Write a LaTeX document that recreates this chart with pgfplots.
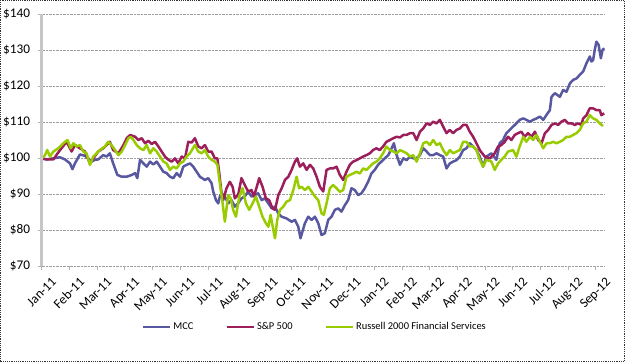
\documentclass[border=0pt]{standalone}
\usepackage{pgfplots}
\pgfplotsset{compat=1.18}
\usepackage{fontspec}
\setmainfont{Carlito}
\definecolor{mcc}{RGB}{88,88,160}
\definecolor{spx}{RGB}{156,30,90}
\definecolor{rus}{RGB}{153,204,0}
\begin{document}
\begin{tikzpicture}[x=1bp,y=1bp]
\useasboundingbox (0,0) rectangle (625,362);
\begin{axis}[
  at={(41.7bp,96bp)}, anchor=south west,
  scale only axis, width=563.3bp, height=252bp,
  xmin=0, xmax=20.33, ymin=70, ymax=140,
  xtick={0,...,20},
  xticklabels={Jan-11,Feb-11,Mar-11,Apr-11,May-11,Jun-11,Jul-11,Aug-11,Sep-11,Oct-11,Nov-11,Dec-11,Jan-12,Feb-12,Mar-12,Apr-12,May-12,Jun-12,Jul-12,Aug-12,Sep-12},
  ytick={70,80,...,140},
  yticklabels={\$70,\$80,\$90,\$100,\$110,\$120,\$130,\$140},
  ymajorgrids, major grid style={densely dotted, gray!75, line width=0.8bp},
  axis line style={draw=none},
  tick pos=left, tick align=outside, major tick length=4bp,
  tick style={gray!60, line width=0.8bp},
  xticklabel style={rotate=45, anchor=north east, font=\fontsize{13.3}{15}\selectfont, inner sep=0bp, yshift=-11bp, xshift=2bp},
  yticklabel style={font=\fontsize{13.3}{15}\selectfont, inner sep=0bp, xshift=-7.5bp},
  legend style={at={(0.485,-0.242)}, anchor=center, draw=none, fill=none,
    font=\fontsize{10.5}{12}\selectfont, legend columns=3,
    /tikz/every even column/.append style={column sep=30bp}},
  legend image code/.code={\draw[#1] (0bp,0bp) -- (27bp,0bp);},
  every axis plot/.append style={line width=2.5bp, line join=round, mark=none},
]
\addplot[color=mcc] coordinates {
(0.00,99.9)(0.18,99.6)(0.42,99.9)(0.66,100.2)(0.84,99.6)(1.02,98.5)(1.11,96.9)(1.20,98.5)(1.38,101.0)(1.56,100.6)(1.68,99.9)(1.80,99.0)(1.92,99.5)(2.04,99.6)(2.22,100.8)(2.34,100.4)(2.46,101.3)(2.58,98.5)(2.73,95.3)(2.89,94.8)(3.07,94.8)(3.25,95.3)(3.37,95.8)(3.45,94.4)(3.55,99.5)(3.67,98.5)(3.79,97.6)(3.91,99.0)(4.03,98.2)(4.15,99.0)(4.27,97.6)(4.39,96.2)(4.51,95.8)(4.63,94.8)(4.75,94.4)(4.87,95.8)(4.99,94.8)(5.11,97.6)(5.23,98.1)(5.35,98.5)
(5.47,97.6)(5.59,96.2)(5.71,94.8)(5.89,93.9)(6.01,94.4)(6.13,93.0)(6.19,90.7)(6.29,88.3)(6.37,87.4)(6.43,89.3)(6.49,90.2)(6.61,89.3)(6.73,87.4)(6.85,88.3)(6.97,86.5)(7.09,87.4)(7.21,88.8)(7.33,89.3)(7.45,90.7)(7.57,89.3)(7.69,89.7)(7.81,90.2)(7.94,88.3)(8.05,88.8)(8.18,87.4)(8.30,86.0)(8.42,86.5)(8.54,84.6)(8.66,83.7)(8.84,83.2)(9.02,82.3)(9.14,82.8)(9.26,80.9)(9.34,77.7)(9.50,81.9)(9.62,83.7)(9.74,82.8)(9.86,83.7)(9.98,81.9)(10.10,78.6)(10.22,79.1)(10.34,82.8)
(10.46,83.7)(10.58,85.6)(10.70,86.0)(10.82,85.1)(10.94,86.9)(11.06,88.3)(11.18,91.6)(11.30,91.1)(11.42,89.7)(11.54,90.2)(11.66,91.6)(11.78,93.4)(11.90,95.7)(12.02,96.7)(12.14,98.1)(12.26,99.0)(12.38,99.9)(12.51,100.8)(12.63,102.7)(12.71,104.1)(12.81,100.8)(12.93,98.1)(13.05,99.9)(13.17,99.4)(13.29,100.4)(13.41,99.9)(13.53,99.9)(13.65,100.8)(13.77,102.7)(13.89,101.8)(14.01,100.8)(14.13,100.8)(14.25,101.3)(14.37,100.8)(14.49,100.4)(14.61,97.1)(14.73,98.5)(14.85,99.0)(14.97,99.4)(15.09,100.4)(15.21,102.2)
(15.33,102.7)(15.45,104.1)(15.57,103.2)(15.69,102.2)(15.81,100.4)(15.93,97.6)(16.05,100.4)(16.23,101.3)(16.41,99.5)(16.53,104.1)(16.65,105.0)(16.77,106.9)(16.89,107.8)(17.01,108.7)(17.13,109.6)(17.25,110.6)(17.38,111.0)(17.49,110.6)(17.62,110.1)(17.74,110.6)(17.86,111.0)(17.98,111.5)(18.10,110.6)(18.22,112.0)(18.34,113.3)(18.40,117.0)(18.52,118.0)(18.70,117.0)(18.82,118.9)(18.94,118.4)(19.06,120.7)(19.18,121.7)(19.30,122.1)(19.42,123.1)(19.54,124.0)(19.66,126.3)(19.78,128.2)(19.84,126.8)(19.90,127.2)(19.96,130.0)(20.02,132.3)(20.10,131.4)(20.18,127.7)(20.24,130.0)(20.30,130.5)
};
\addlegendentry{MCC}
\addplot[color=spx] coordinates {
(0.00,99.9)(0.18,99.6)(0.42,99.6)(0.66,102.2)(0.90,104.5)(1.08,101.8)(1.20,103.6)(1.38,102.7)(1.56,101.8)(1.74,98.5)(1.86,99.9)(2.04,101.8)(2.22,102.7)(2.34,103.6)(2.46,104.5)(2.58,102.2)(2.77,101.3)(2.95,103.6)(3.07,105.5)(3.19,106.4)(3.37,105.9)(3.49,105.0)(3.61,105.5)(3.73,104.1)(3.85,104.8)(3.97,103.9)(4.09,104.5)(4.21,103.2)(4.33,101.8)(4.45,100.4)(4.57,99.5)(4.69,99.0)(4.81,99.9)(4.93,98.5)(5.05,100.4)(5.17,99.9)(5.29,104.5)(5.41,104.3)
(5.53,105.5)(5.65,103.2)(5.77,102.7)(5.89,103.6)(6.01,101.8)(6.13,101.8)(6.25,99.9)(6.34,99.9)(6.41,95.7)(6.49,90.2)(6.55,88.3)(6.67,91.6)(6.79,93.4)(6.89,92.0)(6.97,88.8)(7.09,89.7)(7.21,94.4)(7.33,92.5)(7.45,90.7)(7.57,91.1)(7.66,89.3)(7.78,92.5)(7.85,94.4)(7.97,92.0)(8.09,88.8)(8.21,88.3)(8.33,86.0)(8.42,85.6)(8.54,89.7)(8.66,91.6)(8.78,93.9)(8.90,94.8)(9.02,96.7)(9.14,99.0)(9.22,99.9)(9.32,97.6)(9.44,98.5)(9.56,96.7)(9.68,98.1)(9.80,97.1)(9.92,94.8)(10.04,92.0)(10.16,90.7)(10.28,96.7)(10.40,97.1)
(10.52,97.1)(10.64,97.6)(10.76,95.3)(10.88,93.9)(11.00,96.2)(11.12,98.1)(11.24,99.0)(11.36,99.4)(11.48,99.9)(11.60,100.4)(11.72,100.8)(11.84,101.3)(11.96,102.2)(12.08,102.7)(12.20,102.2)(12.32,103.2)(12.44,104.5)(12.57,105.0)(12.69,105.5)(12.81,105.9)(12.93,105.7)(13.05,106.4)(13.17,106.4)(13.29,106.9)(13.41,106.9)(13.53,105.0)(13.65,107.3)(13.77,108.2)(13.89,109.6)(14.01,109.2)(14.13,110.1)(14.25,109.6)(14.37,110.6)(14.49,108.7)(14.61,106.9)(14.73,107.8)(14.85,106.9)(14.97,107.8)(15.09,108.2)(15.21,109.2)
(15.33,109.2)(15.45,107.3)(15.57,105.9)(15.69,104.1)(15.81,102.2)(15.99,100.4)(16.17,99.9)(16.35,101.3)(16.47,103.2)(16.59,103.6)(16.71,104.5)(16.83,105.9)(16.95,105.0)(17.07,106.4)(17.19,106.9)(17.31,107.3)(17.43,105.9)(17.55,106.9)(17.68,105.9)(17.80,107.3)(17.92,105.0)(18.04,104.1)(18.16,106.9)(18.28,107.8)(18.40,109.2)(18.52,109.6)(18.64,109.2)(18.76,110.1)(18.88,110.6)(19.00,109.6)(19.12,109.6)(19.24,109.2)(19.36,109.6)(19.48,109.2)(19.54,111.0)(19.66,111.9)(19.78,113.8)(19.90,113.8)(20.02,113.3)(20.14,113.3)(20.20,111.9)(20.30,112.4)
};
\addlegendentry{S\&P 500}
\addplot[color=rus] coordinates {
(0.00,99.9)(0.12,100.8)(0.20,102.2)(0.30,100.4)(0.42,101.8)(0.60,102.7)(0.78,104.1)(0.93,105.0)(1.05,102.7)(1.14,104.1)(1.26,103.2)(1.38,103.6)(1.50,101.8)(1.62,101.3)(1.74,98.1)(1.86,100.4)(1.98,101.3)(2.10,102.2)(2.28,103.2)(2.40,104.5)(2.52,103.6)(2.65,102.2)(2.77,100.8)(2.89,101.8)(3.01,103.6)(3.13,105.5)(3.21,105.9)(3.31,105.0)(3.43,103.6)(3.55,102.7)(3.67,102.2)(3.79,103.6)(3.91,101.3)(4.03,102.7)(4.15,101.8)(4.27,100.4)(4.39,99.0)(4.51,98.5)(4.63,96.7)(4.75,97.6)(4.87,97.1)(4.99,98.5)(5.11,99.0)(5.23,100.4)(5.35,101.3)
(5.53,103.6)(5.65,101.8)(5.77,101.3)(5.89,102.2)(6.01,100.4)(6.13,99.5)(6.25,99.0)(6.34,98.1)(6.43,93.0)(6.53,87.4)(6.61,82.3)(6.73,89.7)(6.82,88.8)(6.91,85.6)(7.01,83.7)(7.13,89.3)(7.25,91.6)(7.37,87.4)(7.49,85.6)(7.61,87.4)(7.73,89.3)(7.85,86.5)(7.97,83.7)(8.09,81.9)(8.18,80.9)(8.26,84.2)(8.36,80.0)(8.42,77.7)(8.50,82.8)(8.60,85.6)(8.72,86.5)(8.84,87.9)(8.96,88.3)(9.08,91.1)(9.20,94.8)(9.29,91.6)(9.38,92.0)(9.50,91.1)(9.62,92.0)(9.74,90.7)(9.86,89.3)(9.98,88.3)(10.10,84.6)(10.18,84.2)(10.28,87.4)(10.40,91.6)
(10.52,92.5)(10.64,91.6)(10.76,90.6)(10.88,91.1)(11.00,94.8)(11.12,95.3)(11.24,95.7)(11.36,96.2)(11.48,95.7)(11.60,97.1)(11.72,96.7)(11.84,97.6)(11.96,98.5)(12.08,99.0)(12.20,99.9)(12.32,101.3)(12.44,103.2)(12.57,102.2)(12.69,101.8)(12.81,101.3)(12.93,102.2)(13.05,101.8)(13.17,101.3)(13.29,100.4)(13.41,100.8)(13.53,99.0)(13.65,101.3)(13.77,104.1)(13.89,104.5)(14.01,103.6)(14.13,105.0)(14.25,103.6)(14.37,104.1)(14.49,102.2)(14.61,100.8)(14.73,102.2)(14.85,101.3)(14.97,101.8)(15.09,102.2)(15.21,104.5)
(15.33,104.5)(15.45,103.2)(15.57,103.2)(15.69,102.2)(15.81,99.5)(15.93,97.6)(16.05,99.5)(16.23,99.0)(16.35,96.7)(16.47,98.5)(16.59,99.5)(16.71,100.4)(16.83,101.8)(17.01,102.2)(17.13,100.4)(17.25,103.2)(17.38,105.9)(17.49,104.5)(17.62,105.9)(17.74,105.0)(17.86,106.4)(17.98,104.5)(18.10,102.7)(18.22,104.1)(18.34,104.1)(18.46,104.5)(18.58,104.1)(18.70,104.5)(18.82,105.0)(18.94,105.9)(19.06,105.9)(19.18,106.4)(19.30,106.9)(19.42,107.8)(19.54,109.6)(19.66,110.1)(19.78,111.9)(19.90,111.0)(20.02,110.6)(20.14,109.6)(20.26,108.9)
};
\addlegendentry{Russell 2000 Financial Services}
\end{axis}
\draw[gray!45, line width=2.5bp] (41.7,96) -- (41.7,348);
\draw[black!80, line width=0.8bp, dash pattern=on 1.2bp off 1bp] (0.5,0.5) rectangle (624.5,361.5);
\end{tikzpicture}
\end{document}
